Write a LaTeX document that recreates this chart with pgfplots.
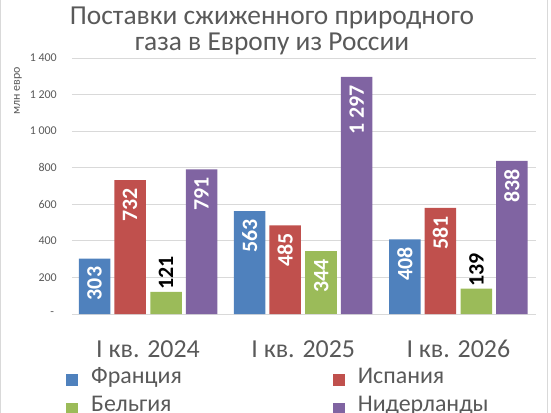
\documentclass[border=0pt]{standalone}
\usepackage{pgfplots}
\pgfplotsset{compat=1.18}
\usepackage{fontspec}
\setmainfont{Carlito}
\definecolor{cFr}{HTML}{4F81BD}
\definecolor{cEs}{HTML}{C0504D}
\definecolor{cBe}{HTML}{9BBB59}
\definecolor{cNl}{HTML}{8064A2}
\definecolor{txt}{HTML}{595959}
\definecolor{grd}{HTML}{D9D9D9}
\begin{document}
\begin{tikzpicture}
\useasboundingbox (-72bp,-99bp) rectangle (479bp,314bp);
\draw[grd, line width=1bp] (-71bp,-120bp) rectangle (475bp,330bp);
\begin{axis}[
  at={(0,0)}, anchor=south west,
  scale only axis, width=464bp, height=256bp,
  ybar,
  bar width=31.5bp,
  xmin=-0.49, xmax=2.5,
  ymin=0, ymax=1400,
  xtick={0,1,2},
  xticklabels={I кв. 2024, I кв. 2025, I кв. 2026},
  ytick={0,200,...,1400},
  yticklabels={{-\ \ },200,400,600,800,{1 000},{1 200},{1 400}},
  /pgf/number format/assume math mode=true,
  major tick length=0pt,
  axis x line*=bottom, axis y line*=left,
  x axis line style={grd, line width=1bp},
  y axis line style={draw=none},
  ymajorgrids, grid style={grd, line width=1bp},
  yticklabel style={font=\fontsize{12}{12}\selectfont, text=txt, anchor=east, inner sep=0pt, xshift=-15bp},
  xticklabel style={font=\fontsize{26}{26}\selectfont, text=txt, anchor=base, inner sep=0pt, yshift=-43bp},
  ylabel={млн евро},
  ylabel style={font=\fontsize{12}{12}\selectfont, text=txt, at={(axis description cs:-0.1164,0.871)}, anchor=center, inner sep=0pt},
  title={\begin{tabular}{@{}c@{}}Поставки сжиженного природного\\[-2bp]газа в Европу из России\end{tabular}},
  title style={font=\fontsize{27.5}{28}\selectfont, text=txt, at={(axis description cs:0.431,1)}, anchor=north, inner sep=0pt, yshift=47bp},
  point meta=explicit symbolic,
  nodes near coords,
  inside/.style={nodes near coords style={rotate=90, anchor=east, text=white, font=\bfseries\fontsize{22}{22}\selectfont, inner ysep=0pt, inner xsep=8bp}},
  outside/.style={nodes near coords style={rotate=90, anchor=west, text=black, font=\bfseries\fontsize{22}{22}\selectfont, inner ysep=0pt, inner xsep=2bp}},
  legend columns=2,
  legend cell align=left,
  legend image code/.code={\fill[#1, draw=none] (0bp,-6bp) rectangle (12bp,6bp);},
  legend style={at={(axis description cs:0,0)}, anchor=north west, xshift=-6bp, yshift=-52bp,
    draw=none, fill=none, inner sep=0pt,
    font=\fontsize{24}{24}\selectfont, text=txt,
    nodes={inner sep=0pt, text height=17bp, text depth=11.5bp},
    /tikz/column 1/.style={column sep=13bp},
    /tikz/column 2/.style={column sep=151bp},
    /tikz/column 3/.style={column sep=13bp}},
]
\addplot[fill=cFr, draw=none, bar shift=-53.5bp, inside] coordinates {(0,303) [303] (1,563) [563] (2,408) [408]};
\addlegendentry{Франция}
\addplot[fill=cEs, draw=none, bar shift=-18bp, inside] coordinates {(0,732) [732] (1,485) [485] (2,581) [581]};
\addlegendentry{Испания}
\addplot[fill=cBe, draw=none, bar shift=18bp, outside] coordinates {(0,121) [121] (2,139) [139]};
\addlegendentry{Бельгия}
\addplot[fill=cNl, draw=none, bar shift=53.5bp, inside] coordinates {(0,791) [791] (1,1297) [{1 297}] (2,838) [838]};
\addlegendentry{Нидерланды}
\addplot[fill=cBe, draw=none, bar shift=18bp, inside, forget plot] coordinates {(1,344) [344]};
\end{axis}
\end{tikzpicture}
\end{document}
